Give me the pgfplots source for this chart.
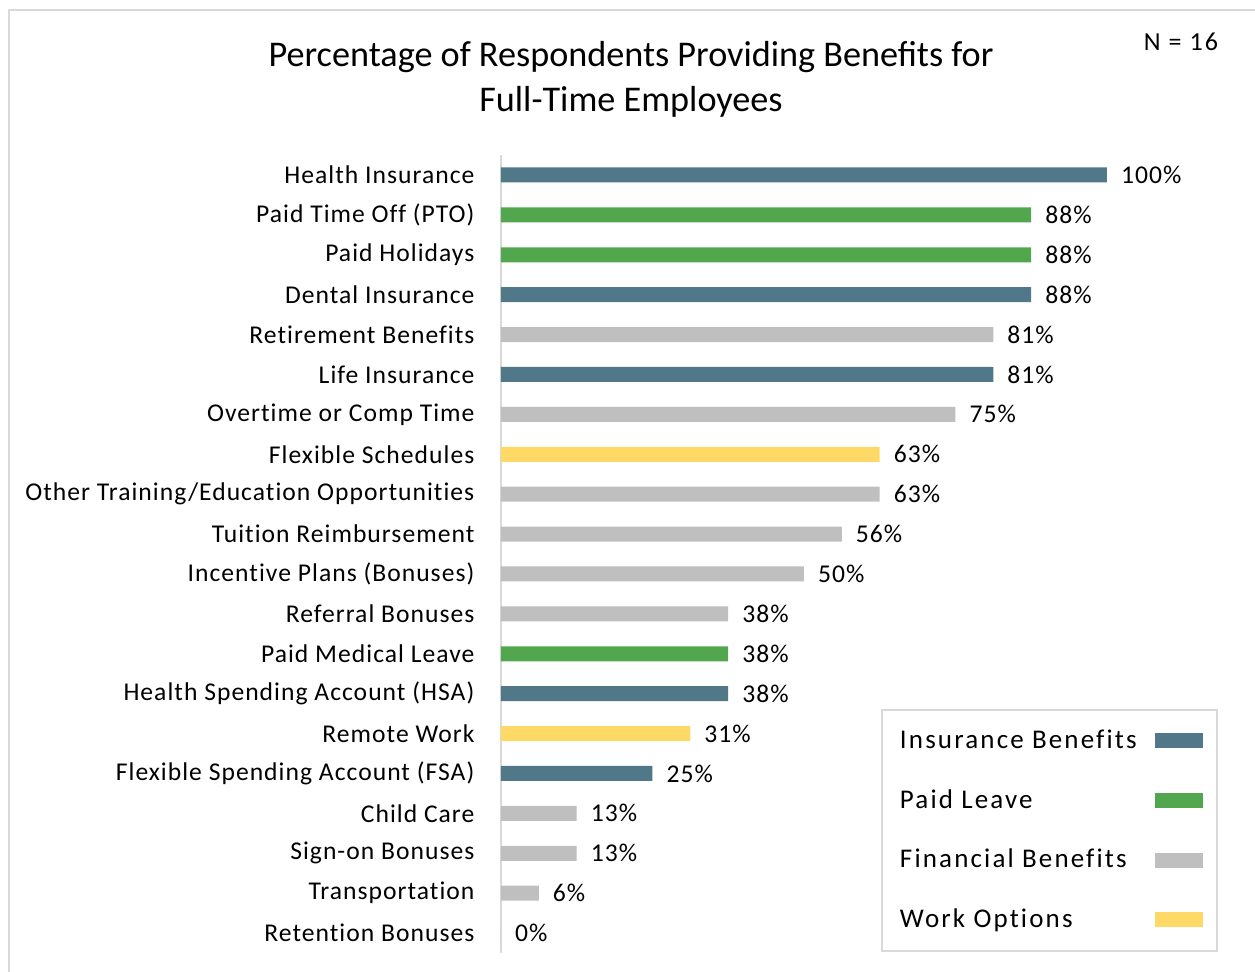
\documentclass[border=0pt]{standalone}
\usepackage{pgfplots}
\pgfplotsset{compat=1.18}
\usepackage{fontspec}
\setmainfont{Carlito}
\newfontfamily\lblfont[LetterSpace=4, RawFeature={-liga;-clig;-calt}]{Carlito}
\newfontfamily\legfont[LetterSpace=8, RawFeature={-liga;-clig;-calt}]{Carlito}

\definecolor{insur}{HTML}{507888}
\definecolor{leave}{HTML}{52A64D}
\definecolor{finan}{HTML}{BFBFBF}
\definecolor{workopt}{HTML}{FFD966}
\definecolor{frame}{HTML}{D9D9D9}

\begin{document}
\begin{tikzpicture}
  % page is 1255 x 972 px at 0.5pt per px
  \useasboundingbox (0pt,0pt) rectangle (627.5pt,-486pt);
  \draw[frame, line width=1.2pt] (4.5pt,-486pt) -- (4.5pt,-5pt) -- (627.5pt,-5pt);
  \node[align=center, font=\fontsize{18.1}{22.5}\selectfont] at (315.5pt,-39.5pt) {Percentage of Respondents Providing Benefits for\\Full-Time Employees};
  \node[font=\legfont\fontsize{13}{14}\selectfont] at (590.5pt,-21pt) {N = 16};

  \begin{axis}[
      at={(250.5pt,-77.5pt)}, anchor=north west,
      scale only axis,
      width=303pt, height=399pt,
      xbar, bar width=7.5pt, bar shift=0pt,
      xmin=0, xmax=100,
      ymin=-0.5, ymax=19.5,
      y dir=reverse,
      hide x axis,
      axis y line*=left,
      y axis line style={frame, line width=1pt, -},
      ytick={0,...,19},
      ytick style={draw=none},
      yticklabels={Health Insurance, Paid Time Off (PTO), Paid Holidays, Dental Insurance,
        Retirement Benefits, Life Insurance, Overtime or Comp Time, Flexible Schedules,
        Other Training/Education Opportunities, Tuition Reimbursement, Incentive Plans (Bonuses),
        Referral Bonuses, Paid Medical Leave, Health Spending Account (HSA), Remote Work,
        Flexible Spending Account (FSA), Child Care, Sign-on Bonuses, Transportation, Retention Bonuses},
      yticklabel style={font=\lblfont\fontsize{12.8}{14}\selectfont, xshift=-5.5pt},
      point meta=x,
      /pgf/number format/assume math mode=true,
      nodes near coords={\pgfmathprintnumber[fixed,precision=0]{\pgfplotspointmeta}\%},
      every node near coord/.append style={font=\lblfont\fontsize{12.8}{14}\selectfont, black, xshift=3.5pt},
      legend plot pos=right,
      legend cell align=left,
      legend style={at={(0.627,0.306)}, anchor=north west, draw=frame, line width=1pt,
        font=\legfont\fontsize{13.5}{15}\selectfont, row sep=15pt,
        inner xsep=7pt, inner ysep=8pt},
      legend image code/.code={\path (0pt,0pt); \fill[#1] (7pt,-3.75pt) rectangle (31pt,3.75pt);},
    ]
    \addplot[fill=insur, draw=none] coordinates {(100,0) (87.5,3) (81.25,5) (37.5,13) (25,15)};
    \addplot[fill=leave, draw=none] coordinates {(87.5,1) (87.5,2) (37.5,12)};
    \addplot[fill=finan, draw=none] coordinates {(81.25,4) (75,6) (62.5,8) (56.25,9) (50,10) (37.5,11) (12.5,16) (12.5,17) (6.25,18) (0,19)};
    \addplot[fill=workopt, draw=none] coordinates {(62.5,7) (31.25,14)};
    \legend{Insurance Benefits, Paid Leave, Financial Benefits, Work Options}
  \end{axis}
\end{tikzpicture}
\end{document}
